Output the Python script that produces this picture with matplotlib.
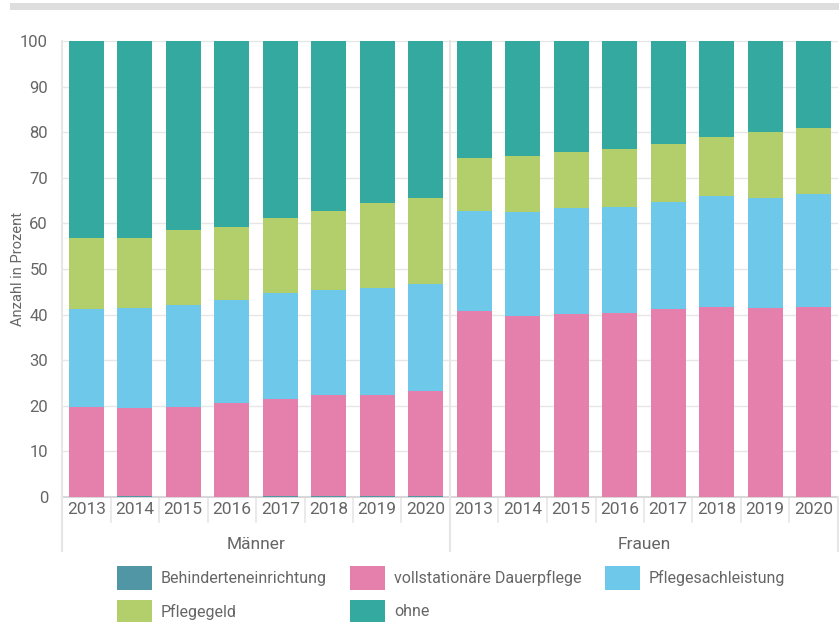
import matplotlib

matplotlib.use("Agg")
import matplotlib.pyplot as plt
from matplotlib.patches import Rectangle

plt.rcParams["font.family"] = ["Roboto", "DejaVu Sans"]

years = ["2013", "2014", "2015", "2016", "2017", "2018", "2019", "2020"]
groups = ["Männer", "Frauen"]
series_names = [
    "Behinderteneinrichtung",
    "vollstationäre Dauerpflege",
    "Pflegesachleistung",
    "Pflegegeld",
    "ohne",
]
colors = ["#5096a5", "#e480ab", "#6ec8ea", "#b2cf6c", "#33a9a0"]

# shares in percent, Männer 2013-2020 then Frauen 2013-2020
behinderten = [0.1, 0.3, 0.1, 0.1, 0.3, 0.3, 0.3, 0.3,
               0.1, 0.1, 0.1, 0.1, 0.1, 0.1, 0.1, 0.1]
vollstationaer = [19.7, 19.3, 19.7, 20.5, 21.1, 22.0, 22.1, 23.0,
                  40.7, 39.7, 40.1, 40.3, 41.1, 41.6, 41.4, 41.6]
sachleistung = [21.4, 21.9, 22.3, 22.7, 23.3, 23.2, 23.5, 23.5,
                21.9, 22.7, 23.2, 23.2, 23.5, 24.3, 24.1, 24.8]
pflegegeld = [15.6, 15.3, 16.4, 15.9, 16.5, 17.2, 18.5, 18.7,
              11.6, 12.2, 12.2, 12.7, 12.7, 12.9, 14.4, 14.4]
ohne = [43.2, 43.2, 41.5, 40.8, 38.8, 37.3, 35.6, 34.5,
        25.7, 25.3, 24.4, 23.7, 22.6, 21.1, 20.0, 19.1]

series = [behinderten, vollstationaer, sachleistung, pflegegeld, ohne]

W, H = 839, 622
fig = plt.figure(figsize=(W / 100, H / 100), dpi=100)
ax = fig.add_axes([62 / W, (H - 497) / H, 776 / W, 456 / H])

# decorative band at the top
fig.patches.append(Rectangle((10 / W, (H - 10) / H), 829 / W, 7 / H,
                             transform=fig.transFigure, color="#dedede", lw=0))

n = len(years) * len(groups)
x = list(range(n))
bottom = [0.0] * n
for values, color, name in zip(series, colors, series_names):
    ax.bar(x, values, bottom=bottom, width=0.72, color=color, label=name,
           linewidth=0, zorder=3)
    bottom = [b + v for b, v in zip(bottom, values)]

ax.set_xlim(-0.5, n - 0.5)
ax.set_ylim(0, 100)
ax.set_yticks(range(0, 101, 10))
ax.tick_params(axis="y", length=0, labelsize=12, labelcolor="#666666", pad=10)
ax.grid(axis="y", color="#e6e6e6", linewidth=1, zorder=0)
ax.set_xticks([])
for side in ["top", "right"]:
    ax.spines[side].set_visible(False)
ax.spines["left"].set_color("#e6e6e6")
ax.spines["left"].set_linewidth(1.5)
ax.spines["bottom"].set_color("#d8d8d8")
ax.spines["bottom"].set_linewidth(1.5)
ax.set_ylabel("Anzahl in Prozent", fontsize=10.5, color="#666666")
ax.yaxis.set_label_coords(-44 / 776, 0.5)
ax.yaxis.label.set_verticalalignment("center")

# grouped category axis
xt = ax.get_xaxis_transform()
for i in range(n):
    lab = years[i % len(years)]
    ax.text(i, -0.028, lab, transform=xt, ha="center", va="center",
            fontsize=12.5, color="#666666")
for i in range(1, n):
    if i % len(years) != 0:
        ax.plot([i - 0.5, i - 0.5], [0, -0.055], transform=xt, color="#e6e6e6",
                lw=1.2, clip_on=False)
for g in range(len(groups) + 1):
    xpos = g * len(years) - 0.5
    ax.plot([xpos, xpos], [1 if g == 1 else 0, -0.118], transform=xt,
            color="#e6e6e6", lw=1.5, clip_on=False, zorder=4)
for g, name in enumerate(groups):
    ax.text(g * len(years) + (len(years) - 1) / 2, -0.104, name, transform=xt,
            ha="center", va="center", fontsize=12.5, color="#666666")

# legend laid out manually, three per row
col_x = [117, 350, 605]
row_y = [578, 612]
for k, (name, color) in enumerate(zip(series_names, colors)):
    cx = col_x[k % 3]
    cy = row_y[k // 3]
    fig.patches.append(Rectangle((cx / W, (H - cy - 12) / H), 35 / W, 24 / H,
                                 transform=fig.transFigure, color=color, lw=0))
    fig.text((cx + 44) / W, (H - cy) / H, name, ha="left", va="center",
             fontsize=11.5, color="#666666")

fig.savefig("out.png", dpi=100)
